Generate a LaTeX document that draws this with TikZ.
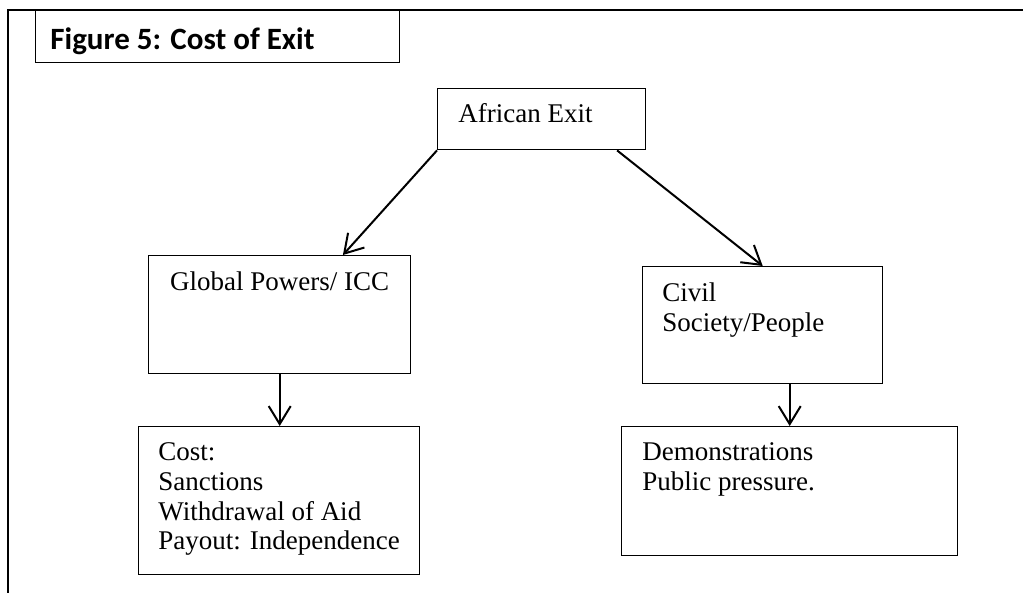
\documentclass[tikz,border=0pt]{standalone}
\usepackage{fontspec}
\setmainfont{Liberation Serif}
\newfontfamily\titlefont{Carlito}
\usetikzlibrary{positioning}
\usetikzlibrary{arrows.meta, calc}

\tikzset{
  box/.style={draw, line width=0.7pt, inner sep=0pt, anchor=north west},
  txt/.style={anchor=base west, inner sep=0pt, font=\fontsize{13.5}{15}\selectfont},
  link/.style={line width=1pt, -{Straight Barb[length=9pt,width=11pt]}}
}

\begin{document}
\begin{tikzpicture}[x=0.5pt,y=-0.5pt]
                \useasboundingbox (0,0) rectangle (1023,593);
                % frame
                \draw[line width=0.9pt] (8,593) -- (8,10) -- (1023,10);
                \node[box, minimum width=182pt, minimum height=26pt] (title) at (35,10) {};
                \node[anchor=base west, inner sep=0pt, font=\titlefont\bfseries\fontsize{15.5}{17}\selectfont] (titletext) at (50,50) {Figure 5: Cost of Exit};
                % boxes
                \node[box, minimum width=104pt, minimum height=30.5pt] (exit) at (437,88) {};
                \node[box, minimum width=131pt, minimum height=59pt] (powers) at (148,255) {};
                \node[box, minimum width=120pt, minimum height=58.5pt] (civil) at (642,266) {};
                \node[box, minimum width=140.5pt, minimum height=74pt] (cost) at (138,426) {};
                \node[box, minimum width=168pt, minimum height=64.5pt] (demo) at (621,426) {};
                % texts
                \node[txt] (exittext) at ($(exit.north west)+(21,35)$) {African Exit};
                \node[txt, anchor=base] (powerstext) at ($(powers.north)+(0,36)$) {Global Powers/ ICC};
                \node[txt] (civila) at ($(civil.north west)+(20,36)$) {Civil};
                \node[txt] (civilb) at ($(civil.north west)+(20,66)$) {Society/People};
                \node[txt] (costa) at ($(cost.north west)+(20,34)$) {Cost:};
                \node[txt] (costb) at ($(cost.north west)+(20,64)$) {Sanctions};
                \node[txt] (costc) at ($(cost.north west)+(20,94)$) {Withdrawal of Aid};
                \node[txt] (costd) at ($(cost.north west)+(20,123)$) {Payout: Independence};
                \node[txt] (demoa) at ($(demo.north west)+(21,34)$) {Demonstrations};
                \node[txt] (demob) at ($(demo.north west)+(21,64)$) {Public pressure.};
                % arrows
                \draw[link] (exit.south west) -- ($(powers.north west)!0.74!(powers.north east)$);
                \draw[link] ($(exit.south west)!0.86!(exit.south east)$) -- (civil.north);
                \draw[link] (powers.south) -- (powers.south |- cost.north);
                \draw[link] (demo.north |- civil.south) -- (demo.north);
            \end{tikzpicture}
\end{document}
